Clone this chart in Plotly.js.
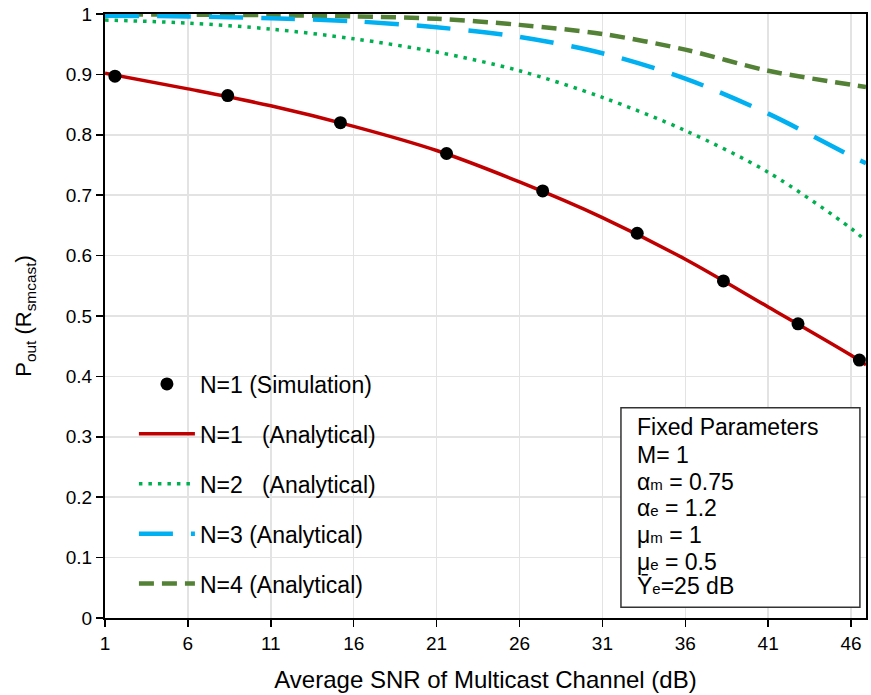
<!DOCTYPE html>
<html>
<head>
<meta charset="utf-8">
<script src="https://cdn.plot.ly/plotly-3.0.1.min.js"></script>
<style>html,body{margin:0;padding:0;background:#fff;}#chart{width:871px;height:695px;}</style>
</head>
<body>
<div id="chart"></div>
<script>
// Simulation points (N=1)
const simX = [1.6, 8.4, 15.2, 21.6, 27.4, 33.1, 38.3, 42.8, 46.5];
const simY = [0.897, 0.865, 0.820, 0.769, 0.707, 0.637, 0.558, 0.487, 0.427];

// Analytical curves (read at the grid lines and the right edge)
const gridX = [1, 6, 11, 16, 21, 26, 31, 36, 41, 46, 46.9];
const n1Y = [0.902, 0.876, 0.848, 0.814, 0.774, 0.722, 0.663, 0.594, 0.515, 0.435, 0.419];
const n2Y = [0.990, 0.985, 0.975, 0.959, 0.937, 0.906, 0.862, 0.807, 0.738, 0.645, 0.624];
const n3Y = [0.997, 0.996, 0.993, 0.988, 0.978, 0.962, 0.935, 0.893, 0.835, 0.765, 0.753];
const n4Y = [0.999, 0.999, 0.998, 0.996, 0.992, 0.982, 0.967, 0.941, 0.906, 0.883, 0.879];

const xTicks = [1, 6, 11, 16, 21, 26, 31, 36, 41, 46];
const yTicks = [0, 0.1, 0.2, 0.3, 0.4, 0.5, 0.6, 0.7, 0.8, 0.9, 1];

const names = ["N=1 (Simulation)", "N=1\u00a0\u00a0 (Analytical)", "N=2\u00a0\u00a0 (Analytical)", "N=3 (Analytical)", "N=4 (Analytical)"];

const SUB = (s) => "<span style='font-size:15px'>" + s + "</span>";
const boxLines = [
  "Fixed Parameters",
  "M= 1",
  "\u03b1" + SUB("m") + " = 0.75",
  "\u03b1" + SUB("e") + " = 1.2",
  "\u03bc" + SUB("m") + " = 1",
  "\u03bc" + SUB("e") + " = 0.5",
  "\u0232" + SUB("e") + "=25 dB"
];

const FONT = "Liberation Sans, Arial, sans-serif";

const traces = [
  {x: gridX, y: n4Y, mode: "lines", name: names[4], legendgroup: "g5", legendrank: 5,
   line: {color: "#538135", width: 4.5, dash: "15px,8px", shape: "spline", smoothing: 0.9}},
  {x: gridX, y: n3Y, mode: "lines", name: names[3], legendgroup: "g4", legendrank: 4,
   line: {color: "#00B0F0", width: 4.5, dash: "34px,18px", shape: "spline", smoothing: 0.9}},
  {x: gridX, y: n2Y, mode: "lines", name: names[2], legendgroup: "g3", legendrank: 3,
   line: {color: "#00B050", width: 3.5, dash: "3.5px,6px", shape: "spline", smoothing: 0.9}},
  {x: gridX, y: n1Y, mode: "lines", name: names[1], legendgroup: "g2", legendrank: 2,
   line: {color: "#C00000", width: 3.5, shape: "spline", smoothing: 0.9}},
  {x: simX, y: simY, mode: "markers", name: names[0], legendgroup: "g1", legendrank: 1,
   marker: {color: "#000000", size: 13, symbol: "circle"}}
];

// text lines of the parameter box, one annotation per line (centres in px from top)
const lineCentersPx = [427, 455, 482, 508, 535, 562, 586];
const annotations = boxLines.map((t, i) => ({
  xref: "paper", yref: "paper", x: 0.696, y: (618 - lineCentersPx[i]) / 604,
  xanchor: "left", yanchor: "middle", align: "left", showarrow: false, text: t,
  font: {family: FONT, size: 23, color: "#000"}
}));

const layout = {
  width: 871, height: 695,
  margin: {l: 105, r: 5, t: 14, b: 77},
  paper_bgcolor: "#ffffff", plot_bgcolor: "#ffffff",
  font: {family: FONT, color: "#000", size: 19},
  showlegend: true,
  legend: {
    x: 0.038, y: 0.423, xanchor: "left", yanchor: "top",
    bgcolor: "rgba(0,0,0,0)", borderwidth: 0,
    font: {family: FONT, size: 23, color: "#000"},
    tracegroupgap: 17, traceorder: "grouped", itemwidth: 56
  },
  xaxis: {
    range: [1, 46.9], tickvals: xTicks, ticktext: xTicks.map(String),
    showgrid: true, gridcolor: "#e3e3e3", gridwidth: 1.5,
    showline: true, linecolor: "#000", linewidth: 2, mirror: true,
    ticks: "outside", ticklen: 7, tickwidth: 1.5, tickcolor: "#000",
    zeroline: false,
    tickfont: {family: FONT, size: 19, color: "#000"},
    title: {text: "Average SNR of Multicast Channel (dB)", font: {family: FONT, size: 24, color: "#000"}, standoff: 18}
  },
  yaxis: {
    range: [0, 1], tickvals: yTicks, ticktext: yTicks.map(v => String(v)),
    showgrid: true, gridcolor: "#e3e3e3", gridwidth: 1.5,
    showline: true, linecolor: "#000", linewidth: 2, mirror: true,
    ticks: "outside", ticklen: 7, tickwidth: 1.5, tickcolor: "#000",
    zeroline: false,
    tickfont: {family: FONT, size: 19, color: "#000"},
    title: {text: "P<sub>out</sub> (R<sub>smcast</sub>)", font: {family: FONT, size: 22, color: "#000"}, standoff: 28}
  },
  shapes: [{
    type: "rect", xref: "paper", yref: "paper",
    x0: 0.678, x1: 0.992, y0: 0.018, y1: 0.348,
    line: {color: "#333", width: 1.5}, fillcolor: "#ffffff", layer: "above"
  }],
  annotations: annotations
};

Plotly.newPlot("chart", traces, layout, {displayModeBar: false, staticPlot: true});
</script>
</body>
</html>
